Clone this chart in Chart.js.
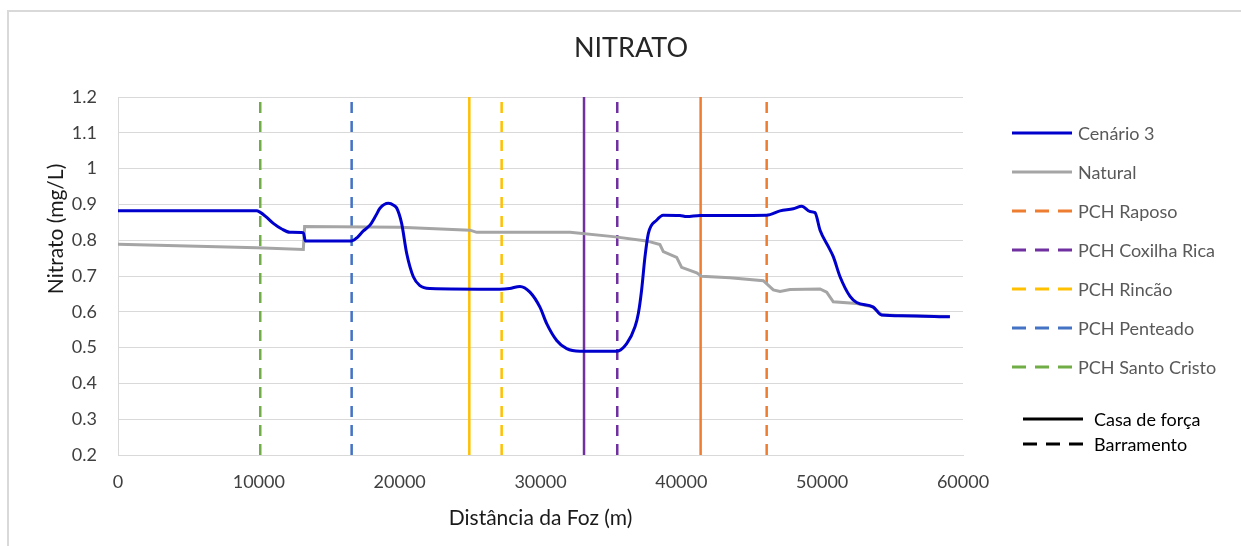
<!DOCTYPE html>
<html>
<head>
<meta charset="utf-8">
<script src="https://cdn.jsdelivr.net/npm/chart.js@4.4.0/dist/chart.umd.min.js"></script>
<style>
  body { margin: 0; background: #fff; width: 1241px; height: 546px; overflow: hidden; position: relative; font-family: Lato, sans-serif; }
  #frame { position: absolute; left: 7px; top: 10px; width: 1400px; height: 700px; border: 2px solid #D9D9D9; }
  #wrap { position: absolute; left: 0; top: 0; width: 1241px; height: 546px; }
  #legend { position: absolute; left: 1012px; top: 113px; color: #595959; font-size: 18px; }
  .item { display: flex; align-items: center; height: 39px; white-space: nowrap; }
  .item svg { margin-right: 6px; }
  .extra { color: #000; }
  .extra .item { height: 25px; }
  .extra svg { margin-left: 11px; margin-right: 11px; }
</style>
</head>
<body>
<div id="frame"></div>
<div id="wrap"><canvas id="nitratoChart" width="1241" height="546"></canvas></div>
<div id="legend"></div>

<script>
// Cenário 3 (blue)
const distCenario = [0, 9850, 10050, 10500, 11030, 11600, 12210, 13160, 13300, 16590, 17000, 17420, 17890, 18300, 18600, 19200, 19600, 19790,
  20140, 20500, 20970, 21440, 22150, 27120, 27800, 28540, 29250, 29960, 30440, 31150, 31860, 32800, 35410, 36120, 36710, 36950,
  37180, 37420, 37660, 38250, 38720, 39900, 40380, 41330, 46060, 47010, 47950, 48550, 49140, 49490, 49850, 50440, 50790, 51270,
  51980, 52450, 53630, 54220, 55760, 59070];
const nitCenario = [0.882, 0.882, 0.879, 0.866, 0.847, 0.832, 0.822, 0.821, 0.798, 0.798, 0.808, 0.826, 0.842, 0.868, 0.889, 0.903, 0.897, 0.890,
  0.847, 0.763, 0.698, 0.673, 0.665, 0.663, 0.665, 0.671, 0.655, 0.613, 0.567, 0.520, 0.497, 0.490, 0.490, 0.511, 0.558, 0.596,
  0.661, 0.754, 0.819, 0.856, 0.870, 0.869, 0.866, 0.869, 0.870, 0.882, 0.888, 0.895, 0.880, 0.877, 0.828, 0.782, 0.754, 0.698,
  0.643, 0.626, 0.613, 0.591, 0.589, 0.586];

// Natural (gray)
const distNatural = [0, 9850, 13160, 13250, 20020, 24990, 25470, 32100, 35170, 37540, 38480, 38720, 39670, 40020, 41090, 41440,
  43450, 45820, 46530, 47010, 47720, 49850, 50320, 50790, 52450, 53630, 54220, 55760, 59070];
const nitNatural = [0.789, 0.779, 0.774, 0.838, 0.836, 0.828, 0.822, 0.822, 0.810, 0.798, 0.788, 0.768, 0.752, 0.724, 0.709, 0.699,
  0.695, 0.687, 0.661, 0.657, 0.662, 0.664, 0.655, 0.628, 0.623, 0.613, 0.592, 0.589, 0.587];

// PCH positions (m from river mouth)
const pchNames = ['PCH Raposo', 'PCH Coxilha Rica', 'PCH Rincão', 'PCH Penteado', 'PCH Santo Cristo'];
const pchColors = ['#ED7D31', '#7030A0', '#FFC000', '#4472C4', '#70AD47'];
const pchBarramento = [46060, 35450, 27240, 16590, 10100];
const pchCasaForca = [41370, 33090, 24945, null, null];

const yMin = 0.2, yMax = 1.2, yStep = 0.1;
const xMin = 0, xMax = 60000, xStep = 10000;

const chartTitle = 'NITRATO';
const xTitle = 'Distância da Foz (m)';
const yTitle = 'Nitrato (mg/L)';

const toPoints = (xs, ys) => xs.map((x, i) => ({ x: x, y: ys[i] }));
const vertical = x => [{ x: x, y: yMin }, { x: x, y: yMax }];

const datasets = [
  { label: 'Cenário 3', data: toPoints(distCenario, nitCenario), borderColor: '#0000CC', borderWidth: 3, cubicInterpolationMode: 'monotone' },
  { label: 'Natural', data: toPoints(distNatural, nitNatural), borderColor: '#A5A5A5', borderWidth: 3 }
];
pchNames.forEach((name, i) => {
  datasets.push({ label: name, data: vertical(pchBarramento[i]), borderColor: pchColors[i], borderWidth: 2.5, borderDash: [11, 8] });
  if (pchCasaForca[i] !== null) {
    datasets.push({ label: name + ' (casa de força)', data: vertical(pchCasaForca[i]), borderColor: pchColors[i], borderWidth: 2.5 });
  }
});

// Chart title centred on the whole figure, y axis title placed off-centre like the original
const textPlugin = {
  id: 'texts',
  afterDraw(chart) {
    const ctx = chart.ctx;
    ctx.save();
    ctx.textAlign = 'center';
    ctx.textBaseline = 'middle';
    ctx.fillStyle = '#262626';
    ctx.font = '27px Lato';
    ctx.fillText(chartTitle, 631, 48);
    ctx.translate(56, 229);
    ctx.rotate(-Math.PI / 2);
    ctx.font = '21px Lato';
    ctx.fillStyle = '#1a1a1a';
    ctx.fillText(yTitle, 0, 0);
    ctx.restore();
  }
};

new Chart(document.getElementById('nitratoChart'), {
  type: 'line',
  data: { datasets: datasets },
  options: {
    responsive: false,
    animation: false,
    elements: { point: { radius: 0 }, line: { tension: 0 } },
    layout: { padding: { left: 0, right: 278, top: 97, bottom: 0 } },
    plugins: {
      legend: { display: false },
      tooltip: { enabled: false },
      title: { display: false }
    },
    scales: {
      x: {
        type: 'linear', min: xMin, max: xMax,
        afterFit: s => { s.height = 91; },
        grid: { display: false, drawTicks: false },
        border: { color: '#D9D9D9', width: 1 },
        ticks: { stepSize: xStep, padding: 16, color: '#404040', font: { family: 'Lato', size: 18 }, callback: v => String(v) },
        title: { display: true, text: xTitle, color: '#1a1a1a', font: { family: 'Lato', size: 21 }, padding: { top: 0, bottom: 15 } }
      },
      y: {
        min: yMin, max: yMax,
        afterFit: s => { s.width = 118; },
        grid: { color: '#D9D9D9', drawTicks: false },
        border: { color: '#D9D9D9', width: 1 },
        ticks: { stepSize: yStep, padding: 21, color: '#404040', font: { family: 'Lato', size: 18 }, callback: v => String(Number(v.toFixed(1))) }
      }
    }
  },
  plugins: [textPlugin]
});

// Legend
const legendRows = [
  { label: 'Cenário 3', color: '#0000CC', dash: null },
  { label: 'Natural', color: '#A5A5A5', dash: null }
].concat(pchNames.map((n, i) => ({ label: n, color: pchColors[i], dash: '14 9' })));

function lineSvg(color, dash) {
  return '<svg width="60" height="6"><line x1="0" y1="3" x2="60" y2="3" stroke="' + color + '" stroke-width="3"' +
    (dash ? ' stroke-dasharray="' + dash + '"' : '') + '/></svg>';
}
const legend = document.getElementById('legend');
legend.innerHTML = legendRows.map(r => '<div class="item">' + lineSvg(r.color, r.dash) + '<span>' + r.label + '</span></div>').join('') +
  '<div class="extra" style="margin-top:20px">' +
  '<div class="item">' + lineSvg('#000', null) + '<span>Casa de força</span></div>' +
  '<div class="item">' + lineSvg('#000', '14 9') + '<span>Barramento</span></div>' +
  '</div>';
</script>
</body>
</html>
